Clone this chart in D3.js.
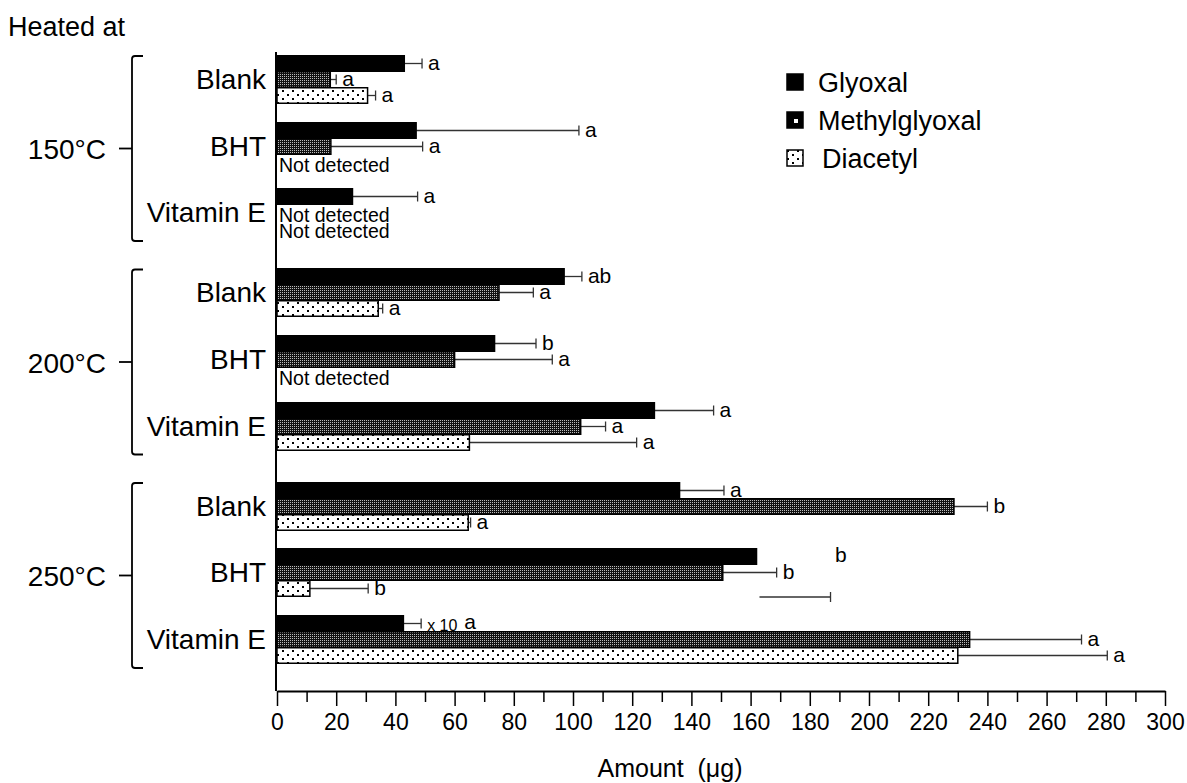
<!DOCTYPE html>
<html><head><meta charset="utf-8">
<script src="https://cdn.jsdelivr.net/npm/d3@7"></script>
<style>
body{margin:0;background:#fff}
svg{display:block}
text{font-family:"Liberation Sans",Arial,Helvetica,sans-serif;fill:#000}
</style>
</head><body>
<svg id="c" width="1187" height="783"></svg>
<script>
// ---------- data ----------
const temperatures = ["150°C", "200°C", "250°C"];
const treatments = ["Blank", "BHT", "Vitamin E"];
const seriesNames = ["Glyoxal", "Methylglyoxal", "Diacetyl"];
const xTicks = [0,20,40,60,80,100,120,140,160,180,200,220,240,260,280,300];

// order: 150 Blank, 150 BHT, 150 VitE, 200 Blank, 200 BHT, 200 VitE, 250 Blank, 250 BHT, 250 VitE
const glyoxal       = [43, 47, 25.5, 97, 73.5, 127.5, 136, 162, 42.7];
const glyoxalErr    = [6, 55, 22, 6, 14, 20, 15, null, 6];
const glyoxalLetter = ["a","a","a","ab","b","a","a",null,"a"];

const methylglyoxal       = [18, 18.2, null, 75, 60, 102.6, 228.7, 150.6, 234];
const methylglyoxalErr    = [2, 31, null, 11.6, 33, 8.4, 11.3, 18.2, 37.8];
const methylglyoxalLetter = ["a","a",null,"a","a","a","b","b","a"];

const diacetyl       = [30.6, null, null, 34.2, null, 65, 64.6, 11.1, 230];
const diacetylErr    = [2.7, null, null, 1.5, null, 56.5, 0.8, 19.7, 50.5];
const diacetylLetter = ["a",null,null,"a",null,"a","a","b","a"];

// displaced error bar and letter for 250°C BHT glyoxal
const strayErrRange = [163, 187];
const strayLetterAt = 188.5;
const strayLetter = "b";
const x10Note = "x 10";

// ---------- layout ----------
const svg = d3.select("#c");
const x = d3.scaleLinear().domain([0, 300]).range([277, 1165]);
const gapFrac = 0.21;
const y = d3.scaleLinear().domain([0, 8 + 2 * gapFrac]).range([55, 615]);
const band = d3.scaleBand().domain(seriesNames).range([0, 48]);
const axisY = 691;

const defs = svg.append("defs");
const p1 = defs.append("pattern").attr("id","pMeth").attr("patternUnits","userSpaceOnUse")
  .attr("width",2).attr("height",2);
p1.append("rect").attr("width",2).attr("height",2).attr("fill","#111");
p1.append("rect").attr("width",1).attr("height",1).attr("fill","#bbb");
const p2 = defs.append("pattern").attr("id","pDia").attr("patternUnits","userSpaceOnUse")
  .attr("width",10).attr("height",8);
p2.append("rect").attr("width",10).attr("height",8).attr("fill","#fff");
p2.append("rect").attr("x",2).attr("y",2).attr("width",2).attr("height",2).attr("fill","#000");
p2.append("rect").attr("x",7).attr("y",6).attr("width",2).attr("height",2).attr("fill","#000");

const fills = {"Glyoxal":"#000","Methylglyoxal":"url(#pMeth)","Diacetyl":"url(#pDia)"};

const rows = [];
temperatures.forEach((t, ti) => treatments.forEach((tr, ki) => {
  const g = ti * 3 + ki;
  rows.push({g, ti, tr, pos: g + ti * gapFrac});
}));

const series = [
  {name:"Glyoxal", vals: glyoxal, errs: glyoxalErr, letters: glyoxalLetter},
  {name:"Methylglyoxal", vals: methylglyoxal, errs: methylglyoxalErr, letters: methylglyoxalLetter},
  {name:"Diacetyl", vals: diacetyl, errs: diacetylErr, letters: diacetylLetter}
];

const bars = [];
rows.forEach(r => series.forEach(s => {
  bars.push({row: r, s: s.name, v: s.vals[r.g], e: s.errs[r.g], l: s.letters[r.g],
    top: Math.round(y(r.pos) + band(s.name))});
}));

const gBars = svg.append("g");
bars.filter(d => d.v != null && d.e != null).forEach(d => {
  const cy = d.top + 8.5, x1 = x(d.v), x2 = x(d.v + d.e);
  gBars.append("line").attr("x1",x1).attr("x2",x2).attr("y1",cy).attr("y2",cy)
    .attr("stroke","#333").attr("stroke-width",1.3);
  gBars.append("line").attr("x1",x2).attr("x2",x2).attr("y1",cy-5).attr("y2",cy+5)
    .attr("stroke","#333").attr("stroke-width",1.3);
});
gBars.selectAll("rect.bar").data(bars.filter(d => d.v != null)).join("rect")
  .attr("class","bar")
  .attr("x", x(0)).attr("y", d => d.top + 0.75)
  .attr("width", d => x(d.v) - x(0)).attr("height", 15.5)
  .attr("fill", d => fills[d.s]).attr("stroke","#000").attr("stroke-width",1.5);

bars.filter(d => d.v != null && d.l).forEach(d => {
  const cy = d.top + 8.5;
  let xs = x(d.v + (d.e || 0)) + 6;
  if (d.row.g === 8 && d.s === "Glyoxal") {
    gBars.append("text").attr("x", xs).attr("y", cy + 7).attr("font-size", 16).text(x10Note);
    xs += 37;
    gBars.append("text").attr("x", xs).attr("y", cy + 5).attr("font-size", 21).text(d.l);
  } else {
    gBars.append("text").attr("x", xs).attr("y", cy + 6).attr("font-size", 21).text(d.l);
  }
});
bars.filter(d => d.v == null).forEach(d => {
  gBars.append("text").attr("x", 279).attr("y", d.top + 18).attr("font-size", 19.5).text("Not detected");
});
{
  const r = rows[7];
  const top = Math.round(y(r.pos));
  const ly = top + 49;
  gBars.append("line").attr("x1",x(strayErrRange[0])).attr("x2",x(strayErrRange[1]))
    .attr("y1",ly).attr("y2",ly).attr("stroke","#333").attr("stroke-width",1.3);
  gBars.append("line").attr("x1",x(strayErrRange[1])).attr("x2",x(strayErrRange[1]))
    .attr("y1",ly-5).attr("y2",ly+5).attr("stroke","#333").attr("stroke-width",1.3);
  gBars.append("text").attr("x", x(strayLetterAt)).attr("y", top + band("Glyoxal") + 14)
    .attr("font-size", 21).text(strayLetter);
}

// axes
const major = d3.axisBottom(x).tickValues(xTicks).tickSize(15).tickSizeOuter(0).tickPadding(8);
const minor = d3.axisBottom(x).tickValues(d3.range(10, 300, 20)).tickSize(11).tickSizeOuter(0).tickFormat("");
const ga = svg.append("g").attr("transform", `translate(0,${axisY})`).call(major);
svg.append("g").attr("transform", `translate(0,${axisY})`).call(minor).select(".domain").remove();
ga.select(".domain").attr("stroke-width", 2);
svg.selectAll(".tick line").attr("stroke-width", 1.5);
ga.selectAll(".tick text").attr("font-size", 23).attr("font-family", '"Liberation Sans",Arial,sans-serif');
svg.append("line").attr("x1", 276).attr("x2", 276).attr("y1", 52).attr("y2", axisY)
  .attr("stroke", "#000").attr("stroke-width", 2);

svg.append("text").attr("x", 670).attr("y", 777).attr("text-anchor","middle")
  .attr("font-size", 25).attr("xml:space","preserve").text("Amount  (μg)");

svg.selectAll("text.cat").data(rows).join("text").attr("class","cat")
  .attr("x", 266).attr("y", d => y(d.pos) + 24 + 10).attr("text-anchor","end")
  .attr("font-size", 28).text(d => d.tr);

temperatures.forEach((t, ti) => {
  const top = y(ti * 3 + ti * gapFrac) + 1;
  const bot = y(ti * 3 + 2 + ti * gapFrac) + 53;
  const mid = (top + bot) / 2;
  const bx = 132;
  svg.append("path")
    .attr("d", `M${bx+11},${top} L${bx+3},${top} Q${bx},${top} ${bx},${top+3} L${bx},${bot-3} Q${bx},${bot} ${bx+3},${bot} L${bx+11},${bot}`)
    .attr("fill","none").attr("stroke","#000").attr("stroke-width",1.8);
  svg.append("line").attr("x1", 119).attr("x2", bx).attr("y1", mid).attr("y2", mid)
    .attr("stroke","#000").attr("stroke-width",1.8);
  svg.append("text").attr("x", 106).attr("y", mid + 10.5).attr("text-anchor","end")
    .attr("font-size", 28).text(t);
});

svg.append("text").attr("x", 8).attr("y", 36).attr("font-size", 27).text("Heated at");

const lg = svg.append("g");
seriesNames.forEach((n, i) => {
  const cy = 82 + i * 38;
  lg.append("rect").attr("x", 787).attr("y", cy - 8).attr("width", 16).attr("height", 16)
    .attr("fill", n === "Diacetyl" ? "url(#pDia)" : "#000").attr("stroke","#000").attr("stroke-width",1.5);
  if (n === "Methylglyoxal")
    lg.append("rect").attr("x", 794).attr("y", cy - 1).attr("width", 4).attr("height", 4).attr("fill","#fff");
  lg.append("text").attr("x", n === "Diacetyl" ? 822 : 818).attr("y", cy + 10).attr("font-size", 27).text(n);
});
</script>
</body></html>
